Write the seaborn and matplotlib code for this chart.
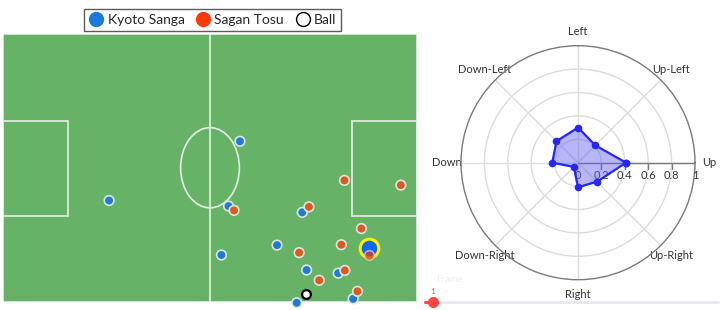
import numpy as np
import pandas as pd
import matplotlib
matplotlib.use("Agg")
import matplotlib.pyplot as plt
from matplotlib.lines import Line2D
from matplotlib.patches import Rectangle, Ellipse
import seaborn as sns

# player positions on a 105 x 68 pitch (y measured from the bottom touchline)
kyoto_x = [60.1, 26.9, 57.2, 75.9, 69.5, 55.4, 77.0, 85.0, 88.8, 74.5]
kyoto_y = [40.7, 25.7, 24.3, 22.7, 14.4, 11.9, 8.1, 7.3, 0.8, -0.2]
tosu_x = [58.6, 86.6, 100.9, 77.6, 90.9, 85.8, 75.1, 86.7, 80.2, 89.9]
tosu_y = [23.2, 30.8, 29.6, 24.1, 18.6, 14.5, 12.5, 8.0, 5.5, 2.7]
carrier_x, carrier_y = 92.8, 13.7        # highlighted Kyoto player
marker_x, marker_y = 92.8, 12.0          # Tosu player right on him
ball_x, ball_y = 76.9, 1.9

# movement direction share for the radar
directions = ["Up", "Up-Left", "Left", "Down-Left", "Down", "Down-Right", "Right", "Up-Right"]
dir_values = [0.41, 0.21, 0.30, 0.26, 0.22, 0.05, 0.21, 0.23]
r_ticks = [0, 0.2, 0.4, 0.6, 0.8, 1]
frame_no = 1

BLUE = "#1f7bd4"
ORANGE = "#db5a22"
GREEN = "#66b266"
LINE = "#e6efe6"

sns.set_style("white")
plt.rcParams["font.family"] = ["Lato", "DejaVu Sans"]

fig = plt.figure(figsize=(7.2, 3.1), dpi=100)

# ---- pitch ----
ax = fig.add_axes([3 / 720, 1 - 302 / 310, 414 / 720, 268.5 / 310])
ax.set_xlim(0, 105)
ax.set_ylim(0, 68)
ax.set_facecolor(GREEN)
for s in ax.spines.values():
    s.set_visible(False)
ax.set_xticks([])
ax.set_yticks([])

lw = 1.2
ax.add_patch(Rectangle((0, 0), 105, 68, fill=False, ec=LINE, lw=lw))
ax.plot([52.5, 52.5], [0, 68], color=LINE, lw=lw)
ax.add_patch(Rectangle((0, 21.8), 16.4, 24.1, fill=False, ec=LINE, lw=lw))
ax.add_patch(Rectangle((88.6, 21.8), 16.4, 24.1, fill=False, ec=LINE, lw=lw))
ax.add_patch(Ellipse((52.5, 34), 14.9, 20.3, fill=False, ec=LINE, lw=lw))

players = pd.DataFrame({
    "x": kyoto_x + tosu_x,
    "y": kyoto_y + tosu_y,
    "team": ["Kyoto Sanga"] * len(kyoto_x) + ["Sagan Tosu"] * len(tosu_x),
})
sns.scatterplot(data=players, x="x", y="y", hue="team",
                palette={"Kyoto Sanga": BLUE, "Sagan Tosu": ORANGE},
                s=48, edgecolor="#dde6dd", linewidth=1.2, legend=False,
                ax=ax, clip_on=False, zorder=3)
ax.scatter([carrier_x], [carrier_y], s=180, color="#1466f0",
           edgecolor="#ffee00", linewidth=2.2, zorder=4, clip_on=False)
ax.scatter([marker_x], [marker_y], s=48, color="#e03a2a", alpha=0.75,
           edgecolor="#dddddd", linewidth=1.0, zorder=5)
ax.scatter([ball_x], [ball_y], s=40, color="white", edgecolor="black",
           linewidth=1.6, zorder=5, clip_on=False)
ax.set_xlabel("")
ax.set_ylabel("")

handles = [
    Line2D([], [], ls="", marker="o", ms=10, mfc="#1a7ad9", mec="#1a7ad9"),
    Line2D([], [], ls="", marker="o", ms=10, mfc="#ff3a0a", mec="#ff3a0a"),
    Line2D([], [], ls="", marker="o", ms=10, mfc="white", mec="black", mew=1),
]
leg = fig.legend(handles, ["Kyoto Sanga", "Sagan Tosu", "Ball"], ncol=3,
                 loc="center", bbox_to_anchor=(212.5 / 720, 1 - 20 / 310),
                 frameon=True, fancybox=False, fontsize=10, handletextpad=0.25,
                 columnspacing=0.8, handlelength=1.1, borderpad=0.35,
                 borderaxespad=0)
leg.get_frame().set_edgecolor("#333333")
leg.get_frame().set_linewidth(1.0)

# ---- radar ----
R = 117
pax = fig.add_axes([(578 - R) / 720, (310 - 162.7 - R) / 310, 2 * R / 720, 2 * R / 310],
                   projection="polar")
angles = np.deg2rad(np.arange(len(directions)) * 45)
pax.set_ylim(0, 1)
pax.set_xticks(angles)
pax.set_xticklabels(directions, fontsize=8, color="#333333")
pax.tick_params(axis="x", pad=0)
pax.set_yticks([0.2, 0.4, 0.6, 0.8])
pax.set_yticklabels([])
pax.grid(color="#dcdcdc", lw=1)
pax.spines["polar"].set_color("#7a7a7a")
pax.spines["polar"].set_linewidth(1.0)

pax.plot([0, 0], [0, 1], color="#7a7a7a", lw=1.0, zorder=2)
pax.plot(np.zeros(len(r_ticks) - 1), r_ticks[1:], ls="", marker=3, ms=4,
         color="#7a7a7a", mew=1, zorder=2)
for r in r_ticks:
    pax.annotate(f"{r:g}", (0, r), xytext=(0, -9), textcoords="offset points",
                 ha="center", va="center", fontsize=8, color="#333333")

closed_a = np.append(angles, angles[0])
closed_v = np.append(dir_values, dir_values[0])
pax.fill(closed_a, closed_v, color="#6060f0", alpha=0.45, zorder=3)
pax.plot(closed_a, closed_v, color="#2626f5", lw=1.6, marker="o", ms=4.5, zorder=4)

# ---- frame slider ----
fig.add_artist(Line2D([425 / 720, 718 / 720], [1 - 301.7 / 310] * 2,
                      color="#e8e8f0", lw=2.2))
fig.add_artist(Line2D([425 / 720, 433 / 720], [1 - 301.7 / 310] * 2,
                      color="#ff4545", lw=2.2))
fig.add_artist(Line2D([433 / 720], [1 - 301.7 / 310], ls="", marker="o",
                      ms=7, color="#ff4545"))
fig.text(433 / 720, 1 - 291 / 310, str(frame_no), color="#ff4545", fontsize=6,
         ha="center", va="center")
fig.text(436 / 720, 1 - 279 / 310, "Frame", color="#eeeeee", fontsize=7,
         ha="left", va="center")

fig.savefig("out.png", dpi=100)
